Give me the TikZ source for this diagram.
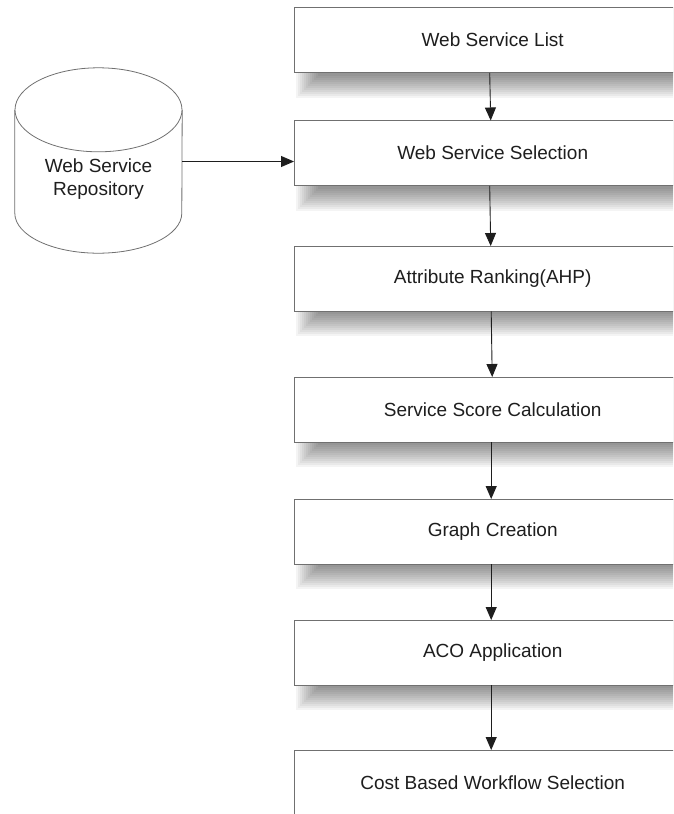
\documentclass[tikz,border=0pt]{standalone}
\usepackage{fontspec}
\setmainfont{Liberation Sans}
\usetikzlibrary{arrows.meta,calc,backgrounds}
\definecolor{edge}{HTML}{707070}
\definecolor{ink}{HTML}{1E1E1E}
\tikzset{
  stepbox/.style={fill=white, minimum width=397pt,
    minimum height=65pt, anchor=north west, inner sep=0pt,
    font=\fontsize{19}{23}\selectfont, text=ink},
  boxline/.style={draw=edge, line width=0.9pt},
  labeltext/.style={inner sep=0pt, align=center, font=\fontsize{19}{23}\selectfont, text=ink},
  flow/.style={draw=ink, line width=0.9pt, -{Triangle[length=13pt,width=11pt]}},
}
\begin{document}
\begin{tikzpicture}[x=1pt,y=-1pt]
\useasboundingbox (0,0) rectangle (673,814);
\clip (0,0) rectangle (673,814);

% process steps (they run on past the right edge of the page)
\node[stepbox] (b1) at (294,7.5)   {Web Service List};
\node[stepbox] (b2) at (294,120.5) {Web Service Selection};
\node[stepbox] (b3) at (294,246)   {Attribute Ranking(AHP)};
\node[stepbox] (b4) at (294,377)   {Service Score Calculation};
\node[stepbox] (b5) at (294,499)   {Graph Creation};
\node[stepbox] (b6) at (294,620)   {ACO Application};
\node[stepbox] (b7) at (294,750)   {Cost Based Workflow Selection};
\foreach \n in {b1,b2,b3,b4,b5,b6,b7} {
  \draw[boxline] ($(\n.north east)+(20,0)$) -- (\n.north west) -- (\n.south west) -- ($(\n.south east)+(20,0)$);
}

% soft drop shadows under the steps
\begin{scope}[on background layer]
  \clip (0,0) rectangle (673,814);
  \foreach \n in {b1,b2,b3,b4,b5,b6} {
    \foreach \i in {0,...,11} {
      \fill[black, opacity=0.045] ($(\n.north west)+(2+2*\i,0)$) rectangle ($(\n.south east)+(30,25-2*\i)$);
    }
  }
\end{scope}

% repository cylinder
\node[minimum width=167pt, minimum height=103pt, inner sep=0pt] (repo) at (98.5,161.5) {};
\draw[edge, line width=0.8pt, fill=white]
  (repo.north west) -- (repo.south west)
  arc[start angle=180, end angle=360, x radius=83.5pt, y radius=40pt]
  -- (repo.north east);
\draw[edge, line width=0.8pt, fill=white] (repo.north) ellipse [x radius=83.5pt, y radius=42pt];
\node[labeltext] (repolabel) at ($(repo.center)+(0,18)$) {Web Service\\Repository};

% connectors
\draw[flow] (repo.east) -- (repo.east -| b2.west);
\draw[flow] ([xshift=-3pt]b1.south) -- ([xshift=-2pt]b2.north);
\draw[flow] ([xshift=-3pt]b2.south) -- ([xshift=-2pt]b3.north);
\draw[flow] ([xshift=-1.5pt]b3.south) -- ([xshift=-0.5pt]b4.north);
\draw[flow] ([xshift=-1.5pt]b4.south) -- ([xshift=-1.5pt]b5.north);
\draw[flow] ([xshift=-1.5pt]b5.south) -- ([xshift=-1.5pt]b6.north);
\draw[flow] ([xshift=-1.5pt]b6.south) -- ([xshift=-1.5pt]b7.north);
\end{tikzpicture}
\end{document}
